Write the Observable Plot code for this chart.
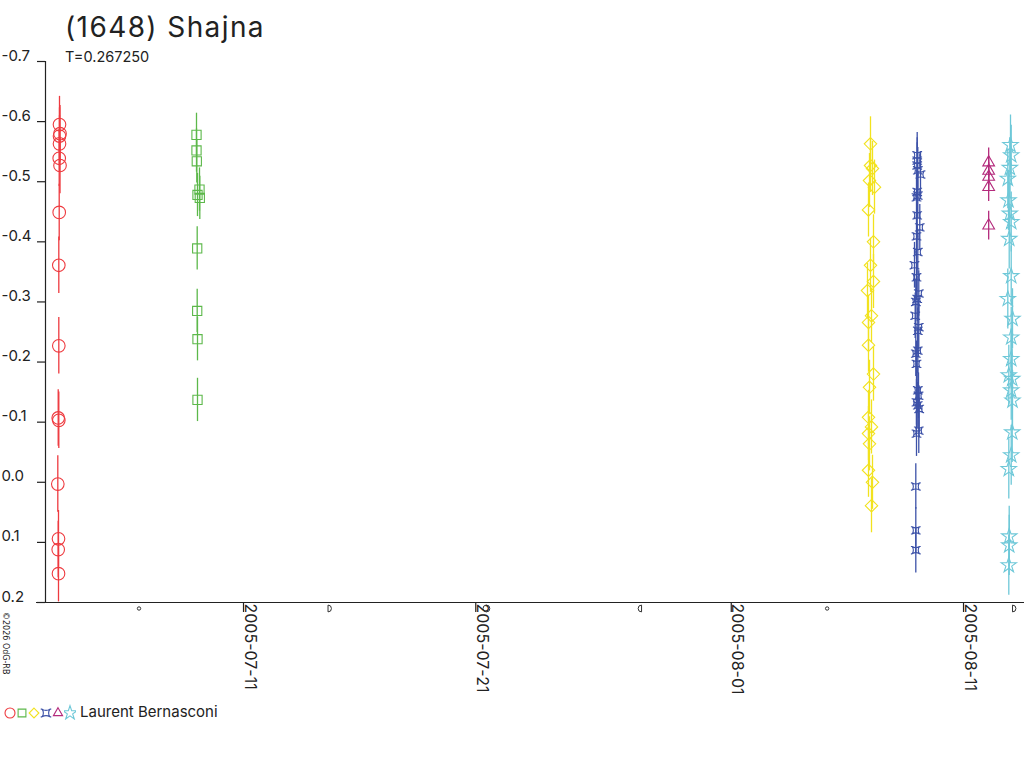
<!DOCTYPE html>
<html>
<head>
<meta charset="utf-8">
<script src="https://cdn.jsdelivr.net/npm/d3@7"></script>
<script src="https://cdn.jsdelivr.net/npm/@observablehq/plot@0.6"></script>
<style>
  body { margin: 0; background: #fff; }
  #wrap { position: relative; width: 1024px; height: 768px; overflow: hidden; font-family: Inter, "Liberation Sans", sans-serif; color: #222; }
  #title { position: absolute; left: 65px; top: 10px; font-size: 28px; letter-spacing: 1.4px; white-space: nowrap; }
  #subtitle { position: absolute; left: 65px; top: 48px; font-size: 14.5px; white-space: nowrap; }
  #chart { position: absolute; left: 0; top: 0; }
  #copy { position: absolute; left: 10px; top: 612px; font-size: 8px; transform-origin: 0 0; transform: rotate(90deg); white-space: nowrap; font-family: "DejaVu Sans", sans-serif; }
  #legend { position: absolute; left: 4px; top: 702px; font-size: 15px; white-space: nowrap; display: flex; align-items: center; }
  #legend svg { display: block; }
</style>
</head>
<body>
<div id="wrap">
  <div id="chart"></div>
  <div id="title">(1648) Shajna</div>
  <div id="subtitle">T=0.267250</div>
  <div id="copy">©2026 OdG-RB</div>
  <div id="legend"></div>
</div>
<script>
// ---- data ----
const redTimes = ["2005-07-03T01:52","2005-07-03T02:24","2005-07-03T01:52","2005-07-03T01:52","2005-07-03T01:34","2005-07-03T02:24","2005-07-03T01:34","2005-07-03T01:09","2005-07-03T01:09","2005-07-03T00:32","2005-07-03T01:09","2005-07-03T00:07","2005-07-03T00:50","2005-07-03T00:32","2005-07-03T00:50"];
const redMags = [-0.595,-0.580,-0.576,-0.563,-0.539,-0.527,-0.449,-0.361,-0.227,-0.107,-0.103,0.003,0.094,0.112,0.152];
const redErr = 0.047;

const greenTimes = ["2005-07-08T23:26","2005-07-08T23:26","2005-07-08T23:44","2005-07-09T02:32","2005-07-09T00:28","2005-07-09T02:51","2005-07-09T00:09","2005-07-09T00:09","2005-07-09T00:28","2005-07-09T00:28"];
const greenMags = [-0.578,-0.552,-0.534,-0.487,-0.478,-0.473,-0.389,-0.285,-0.238,-0.137];
const greenErr = 0.036;

const yellowTimes = ["2005-08-06T23:53","2005-08-06T23:53","2005-08-07T01:57","2005-08-06T22:51","2005-08-07T04:01","2005-08-06T21:49","2005-08-07T02:59","2005-08-06T23:53","2005-08-07T02:59","2005-08-06T20:47","2005-08-07T00:55","2005-08-06T21:49","2005-08-06T21:49","2005-08-07T02:59","2005-08-06T22:51","2005-08-06T21:49","2005-08-07T00:55","2005-08-06T21:49","2005-08-06T22:51","2005-08-06T21:49","2005-08-07T01:57","2005-08-07T00:55"];
const yellowMags = [-0.563,-0.527,-0.522,-0.502,-0.491,-0.453,-0.400,-0.361,-0.334,-0.319,-0.277,-0.266,-0.228,-0.180,-0.158,-0.108,-0.092,-0.081,-0.064,-0.020,0.000,0.039];
const yellowErr = 0.045;

const blueTimes = ["2005-08-09T00:08","2005-08-09T00:08","2005-08-09T00:08","2005-08-09T00:46","2005-08-09T03:33","2005-08-09T00:08","2005-08-09T00:46","2005-08-08T23:25","2005-08-09T00:08","2005-08-09T02:49","2005-08-08T23:25","2005-08-09T00:46","2005-08-08T21:21","2005-08-08T23:25","2005-08-09T01:47","2005-08-09T00:08","2005-08-08T22:42","2005-08-08T22:04","2005-08-09T01:47","2005-08-09T00:46","2005-08-09T00:46","2005-08-08T22:42","2005-08-08T23:25","2005-08-09T00:46","2005-08-09T01:29","2005-08-08T23:25","2005-08-09T00:46","2005-08-09T02:12","2005-08-09T01:47","2005-08-08T23:25","2005-08-08T22:42","2005-08-08T22:42","2005-08-08T22:42"];
const blueMags = [-0.544,-0.535,-0.527,-0.519,-0.512,-0.483,-0.477,-0.474,-0.444,-0.424,-0.409,-0.383,-0.361,-0.341,-0.314,-0.305,-0.300,-0.277,-0.258,-0.252,-0.219,-0.214,-0.197,-0.153,-0.144,-0.133,-0.128,-0.122,-0.086,-0.081,0.007,0.080,0.113];
const blueErr = 0.038;

const purpleTimes = ["2005-08-12T02:00","2005-08-12T02:00","2005-08-12T02:00","2005-08-12T02:00","2005-08-12T02:00"];
const purpleMags = [-0.532,-0.518,-0.508,-0.491,-0.427];
const purpleErr = 0.024;

const cyanTimes = ["2005-08-13T00:33","2005-08-13T01:17","2005-08-12T23:50","2005-08-12T21:46","2005-08-12T22:29","2005-08-12T23:50","2005-08-13T01:17","2005-08-12T23:13","2005-08-13T01:17","2005-08-12T21:46","2005-08-13T02:37","2005-08-13T01:17","2005-08-13T01:17","2005-08-12T22:48","2005-08-13T02:19","2005-08-13T01:17","2005-08-13T02:37","2005-08-13T02:19","2005-08-13T01:17","2005-08-12T22:48","2005-08-12T23:13","2005-08-12T23:13","2005-08-12T22:48"];
const cyanMags = [-0.561,-0.544,-0.523,-0.505,-0.469,-0.447,-0.433,-0.405,-0.343,-0.305,-0.272,-0.241,-0.205,-0.178,-0.172,-0.153,-0.136,-0.083,-0.045,-0.022,0.090,0.105,0.138];
const cyanErr = 0.050;

const yTicks = [-0.7,-0.6,-0.5,-0.4,-0.3,-0.2,-0.1,0.0,0.1,0.2];
const xTickLabels = ["2005-07-11","2005-07-21","2005-08-01","2005-08-11"];
const xDomain = ["2005-07-02T11:24","2005-08-13T15:01"];

const moonTimes = ["2005-07-06T12:02","2005-07-14T15:20","2005-07-21T11:00","2005-07-28T03:19","2005-08-05T03:05","2005-08-13T02:38"];
const moonPhases = ["new","first","full","last","new","first"];

const observer = "Laurent Bernasconi";

// ---- helpers ----
const utc = s => new Date(s.length <= 10 ? s + "T00:00Z" : s + "Z");

const quatrefoil = {
  draw(ctx, size) {
    const s = Math.sqrt(size) / 2;
    const k = s * 0.35;
    ctx.moveTo(-s, -s);
    ctx.quadraticCurveTo(0, -k, s, -s);
    ctx.quadraticCurveTo(k, 0, s, s);
    ctx.quadraticCurveTo(0, k, -s, s);
    ctx.quadraticCurveTo(-k, 0, -s, -s);
    ctx.closePath();
    ctx.moveTo(-s, -s); ctx.lineTo(-s * 1.35, -s);
    ctx.moveTo(s, -s); ctx.lineTo(s * 1.35, -s);
    ctx.moveTo(-s, s); ctx.lineTo(-s * 1.35, s);
    ctx.moveTo(s, s); ctx.lineTo(s * 1.35, s);
  }
};
const moonFirst = { draw(ctx, size) { const r = Math.sqrt(size / Math.PI); ctx.moveTo(0, -r); ctx.arc(0, 0, r, -Math.PI/2, Math.PI/2); ctx.closePath(); } };
const moonLast = { draw(ctx, size) { const r = Math.sqrt(size / Math.PI); ctx.moveTo(0, -r); ctx.arc(0, 0, r, -Math.PI/2, Math.PI/2, true); ctx.closePath(); } };
const moonNew = { draw(ctx, size) { const r = Math.sqrt(size / Math.PI) * 0.5; ctx.moveTo(r, 0); ctx.arc(0, 0, r, 0, 2 * Math.PI); } };
const moonFull = { draw(ctx, size) { const r = Math.sqrt(size / Math.PI); ctx.moveTo(r, 0); ctx.arc(0, 0, r, 0, 2 * Math.PI); } };
const moonSymbol = {new: moonNew, first: moonFirst, full: moonFull, last: moonLast};

const series = [
  {times: redTimes, mags: redMags, err: redErr, color: "#ee3a3f", symbol: "circle", r: 6.3},
  {times: greenTimes, mags: greenMags, err: greenErr, color: "#5cb84a", symbol: "square", r: 5.2},
  {times: yellowTimes, mags: yellowMags, err: yellowErr, color: "#f2e21e", symbol: "diamond2", r: 5.6},
  {times: blueTimes, mags: blueMags, err: blueErr, color: "#3d52a8", symbol: quatrefoil, r: 4.1},
  {times: purpleTimes, mags: purpleMags, err: purpleErr, color: "#b42a7c", symbol: "triangle2", r: 5.6},
  {times: cyanTimes, mags: cyanMags, err: cyanErr, color: "#6ec8d8", symbol: "star", r: 4.8}
];

const marks = [];
for (const s of series) {
  const rows = s.times.map((t, i) => ({t: utc(t), v: s.mags[i], e: s.err}));
  marks.push(Plot.ruleX(rows, {x: "t", y1: d => d.v - d.e, y2: d => d.v + d.e, stroke: s.color, strokeWidth: 1.3}));
}
for (const s of series) {
  const rows = s.times.map((t, i) => ({t: utc(t), v: s.mags[i]}));
  marks.push(Plot.dot(rows, {x: "t", y: "v", symbol: s.symbol, r: s.r, stroke: s.color, fill: "none", strokeWidth: 1.1}));
}

const moonRows = moonTimes.map((t, i) => ({t: utc(t), p: moonPhases[i]}));
const xTickDates = xTickLabels.map(utc);

const plot = Plot.plot({
  width: 1024,
  height: 700,
  marginLeft: 45,
  marginRight: 0,
  marginTop: 61,
  marginBottom: 98,
  style: {fontFamily: "Inter, 'Liberation Sans', sans-serif", fontSize: "15px", color: "#222", background: "transparent"},
  x: {type: "utc", domain: xDomain.map(utc), label: null, axis: null},
  y: {domain: [yTicks[yTicks.length - 1], yTicks[0]], label: null, axis: null},
  marks: [
    Plot.ruleX([xDomain[0]].map(utc), {stroke: "#222", strokeWidth: 1.2}),
    Plot.ruleY([yTicks[yTicks.length - 1]], {stroke: "#222", strokeWidth: 1.2, insetLeft: -9}),
    Plot.axisY({ticks: yTicks, tickSize: 8, tickFormat: () => "", label: null, stroke: "#222", strokeWidth: 1.2}),
    Plot.text(yTicks, {y: d => d, text: d => (Math.abs(d) < 1e-9 ? 0 : d).toFixed(1), frameAnchor: "left", textAnchor: "start", lineAnchor: "bottom", dx: -44, dy: -1, fontSize: 15, fill: "#222"}),
    Plot.axisX({ticks: xTickDates, tickSize: 10, tickFormat: () => "", label: null, stroke: "#222", strokeWidth: 1.2}),
    Plot.text(xTickDates, {x: d => d, text: (d, i) => xTickLabels[i], frameAnchor: "bottom", rotate: 90, textAnchor: "start", lineAnchor: "bottom", dx: 1, dy: 1, fontSize: 16, fill: "#222"}),
    ...["new", "first", "full", "last"].map(p =>
      Plot.dot(moonRows.filter(d => d.p === p), {x: "t", frameAnchor: "bottom", dy: 6, symbol: moonSymbol[p], r: 3.4, stroke: "#333", fill: "none", strokeWidth: 1})
    ),
    ...marks
  ]
});
document.getElementById("chart").appendChild(plot);

// legend
const leg = document.getElementById("legend");
for (const s of series) {
  const sv = d3.create("svg").attr("width", 12).attr("height", 16);
  const type = typeof s.symbol === "string" ? ({circle: d3.symbolCircle, square: d3.symbolSquare, diamond2: d3.symbolDiamond2, triangle2: d3.symbolTriangle2, star: d3.symbolStar})[s.symbol] : s.symbol;
  const rr = s.symbol === "circle" ? 5 : 4.4;
  sv.append("path").attr("transform", "translate(6,9)").attr("d", d3.symbol(type, Math.PI * rr * rr)()).attr("fill", "none").attr("stroke", s.color).attr("stroke-width", 1.1);
  leg.appendChild(sv.node());
}
const lt = document.createElement("span");
lt.textContent = observer;
lt.style.marginLeft = "4px";
leg.appendChild(lt);
</script>
</body>
</html>
